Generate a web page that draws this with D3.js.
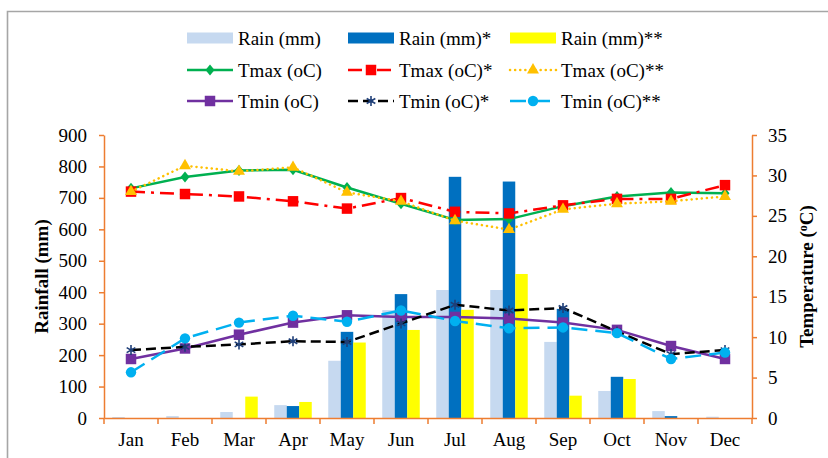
<!DOCTYPE html>
<html><head><meta charset="utf-8">
<script src="https://cdn.jsdelivr.net/npm/d3@7"></script>
<style>
html,body{margin:0;padding:0;background:#fff;}
svg text{font-family:"Liberation Serif","Times New Roman",serif !important;}
</style></head>
<body><svg id="c" width="828" height="458"></svg>
<script>
const months = ["Jan","Feb","Mar","Apr","May","Jun","Jul","Aug","Sep","Oct","Nov","Dec"];
const rainTicks = [0,100,200,300,400,500,600,700,800,900];
const tempTicks = [0,5,10,15,20,25,30,35];

const rain   = [3, 6, 19, 41, 182, 343, 407, 407, 242, 86, 22, 4];
const rainS  = [0, 0, 0, 38, 274, 394, 767, 752, 347, 131, 6, 0];
const rainSS = [0, 0, 68, 51, 240, 280, 344, 458, 71, 124, 0, 0];

const tmax   = [28.4, 29.8, 30.6, 30.7, 28.5, 26.5, 24.5, 24.6, 26.2, 27.4, 27.9, 27.8];
const tmaxS  = [28.0, 27.7, 27.4, 26.8, 25.9, 27.2, 25.5, 25.3, 26.3, 27.1, 27.1, 28.8];
const tmaxSS = [28.0, 31.2, 30.5, 31.0, 27.9, 26.8, 24.4, 23.3, 25.8, 26.5, 26.8, 27.4];
const tmin   = [7.3, 8.6, 10.3, 11.8, 12.7, 12.5, 12.5, 12.3, 11.8, 10.9, 8.9, 7.3];
const tminS  = [8.4, 8.8, 9.1, 9.5, 9.4, 11.7, 14.0, 13.3, 13.6, 10.7, 7.9, 8.4];
const tminSS = [5.65, 9.85, 11.8, 12.65, 11.9, 13.3, 12.0, 11.1, 11.2, 10.5, 7.3, 8.1];

const barSeries = [
  {name:"Rain (mm)", values:rain, color:"#c6d9f0"},
  {name:"Rain (mm)*", values:rainS, color:"#0070c0"},
  {name:"Rain (mm)**", values:rainSS, color:"#ffff00"}
];
const lineSeries = [
  {name:"Tmax (oC)", values:tmax, color:"#00b050", dash:null, marker:"diamond", mcolor:"#00b050"},
  {name:"Tmax (oC)*", values:tmaxS, color:"#ff0000", dash:"14,6,3,6", marker:"square", mcolor:"#ff0000"},
  {name:"Tmax (oC)**", values:tmaxSS, color:"#ffc000", dash:"0.1,5", marker:"triangle", mcolor:"#ffc000", cap:"round"},
  {name:"Tmin (oC)", values:tmin, color:"#7030a0", dash:null, marker:"square", mcolor:"#7030a0"},
  {name:"Tmin (oC)*", values:tminS, color:"#000000", dash:"10,5", marker:"asterisk", mcolor:"#1f3f78"},
  {name:"Tmin (oC)**", values:tminSS, color:"#00b0f0", dash:"16,8", marker:"circle", mcolor:"#00b0f0"}
];

const FONT = "Liberation Serif, Times New Roman, serif";
const svg = d3.select("#c").attr("font-family", FONT);
const W = 828, H = 458;
const L = 104, R = 752, T = 135, B = 418;
const axisColor = "#ed7d31";
const fs = 19;

// frame
svg.append("path").attr("d", `M7.5,${H} L7.5,11.5 L${W},11.5`).attr("fill","none")
  .attr("stroke","#a6a6a6").attr("stroke-width",1.6);

const x = d3.scaleBand().domain(months).range([L, R]).padding(0);
const xs = d3.scaleBand().domain(barSeries.map(d=>d.name)).range([0, x.bandwidth()]).paddingInner(0).paddingOuter(0.66);
const yL = d3.scaleLinear().domain([0, 900]).range([B, T]);
const yR = d3.scaleLinear().domain([0, 35]).range([B, T]);

// bars
barSeries.forEach(s => {
  svg.append("g").selectAll("rect").data(months).join("rect")
    .attr("x", (m) => x(m) + xs(s.name))
    .attr("width", xs.bandwidth())
    .attr("y", (m,i) => yL(s.values[i]))
    .attr("height", (m,i) => yL(0) - yL(s.values[i]))
    .attr("fill", s.color);
});

// axes
function styleAxis(g){
  g.attr("font-family", FONT).attr("font-size", fs);
  g.select(".domain").attr("stroke", axisColor).attr("stroke-width",1.5);
  g.selectAll(".tick line").attr("stroke", axisColor).attr("stroke-width",1.5);
  g.selectAll("text").attr("fill","#000");
}
const gl = svg.append("g").attr("transform",`translate(${L},0)`)
  .call(d3.axisLeft(yL).tickValues(rainTicks).tickSize(5).tickSizeOuter(0).tickPadding(12).tickFormat(d3.format("d")));
styleAxis(gl);
const gr = svg.append("g").attr("transform",`translate(${R},0)`)
  .call(d3.axisRight(yR).tickValues(tempTicks).tickSize(5).tickSizeOuter(0).tickPadding(11).tickFormat(d3.format("d")));
styleAxis(gr);
const gx = svg.append("g").attr("transform",`translate(0,${B})`)
  .call(d3.axisBottom(x).tickSize(0).tickSizeOuter(0).tickPadding(15));
styleAxis(gx);
// x tick marks at band boundaries
svg.append("g").selectAll("line").data(months.concat(["__end"])).join("line")
  .attr("x1", d => d==="__end" ? x.range()[1] : x(d))
  .attr("x2", d => d==="__end" ? x.range()[1] : x(d))
  .attr("y1", B).attr("y2", B+6)
  .attr("stroke", axisColor).attr("stroke-width",1.5);

// axis titles
svg.append("text").attr("transform",`translate(48,${(T+B)/2}) rotate(-90)`)
  .attr("text-anchor","middle").attr("font-weight","bold").attr("font-size",fs).text("Rainfall (mm)");
const tt = svg.append("text").attr("transform",`translate(813,${(T+B)/2}) rotate(-90)`)
  .attr("text-anchor","middle").attr("font-weight","bold").attr("font-size",fs);
tt.append("tspan").text("Temperature (");
tt.append("tspan").attr("dy",-6).attr("font-size",12).text("o");
tt.append("tspan").attr("dy",6).text("C)");

// markers
function markerPath(type){
  switch(type){
    case "diamond": return "M0,-5.5L4.5,0L0,5.5L-4.5,0Z";
    case "square": return d3.symbol().type(d3.symbolSquare).size(110)();
    case "triangle": return d3.symbol().type(d3.symbolTriangle).size(62)();
    case "circle": return d3.symbol().type(d3.symbolCircle).size(85)();
    case "asterisk": return d3.symbol().type(d3.symbolAsterisk).size(70)();
  }
}
function drawMarker(g, s, cx, cy){
  const p = g.append("path").attr("d", markerPath(s.marker)).attr("transform",`translate(${cx},${cy})`);
  if (s.marker === "asterisk") p.attr("fill","none").attr("stroke", s.mcolor).attr("stroke-width",1.6);
  else p.attr("fill", s.mcolor).attr("stroke","none");
}

const xc = m => x(m) + x.bandwidth()/2;
lineSeries.forEach(s => {
  const g = svg.append("g");
  const line = d3.line().x((d,i)=>xc(months[i])).y(d=>yR(d));
  g.append("path").datum(s.values).attr("d", line).attr("fill","none")
    .attr("stroke", s.color).attr("stroke-width",2.5)
    .attr("stroke-dasharray", s.dash)
    .attr("stroke-linecap", s.cap || "butt")
    .attr("stroke-linejoin","round");
  s.values.forEach((v,i)=> drawMarker(g, s, xc(months[i]), yR(v)));
});

// legend
const colX = [187, 348, 510];
const rowY = [38, 70, 101];
const swW = 46;
barSeries.forEach((s,i)=>{
  const g = svg.append("g");
  g.append("rect").attr("x", colX[i]).attr("y", rowY[0]-5.5).attr("width", swW).attr("height", 11).attr("fill", s.color);
  g.append("text").attr("x", colX[i]+swW+5).attr("y", rowY[0]).attr("dy","0.35em").attr("font-size",fs).text(s.name);
});
lineSeries.forEach((s,i)=>{
  const r = 1 + Math.floor(i/3), c = i % 3;
  const g = svg.append("g");
  g.append("line").attr("x1", colX[c]).attr("x2", colX[c]+swW).attr("y1", rowY[r]).attr("y2", rowY[r])
    .attr("stroke", s.color).attr("stroke-width",2.5).attr("stroke-dasharray", s.dash)
    .attr("stroke-linecap", s.cap || "butt");
  drawMarker(g, s, colX[c]+swW/2, rowY[r]);
  g.append("text").attr("x", colX[c]+swW+5).attr("y", rowY[r]).attr("dy","0.35em").attr("font-size",fs).text(s.name);
});
</script></body></html>
